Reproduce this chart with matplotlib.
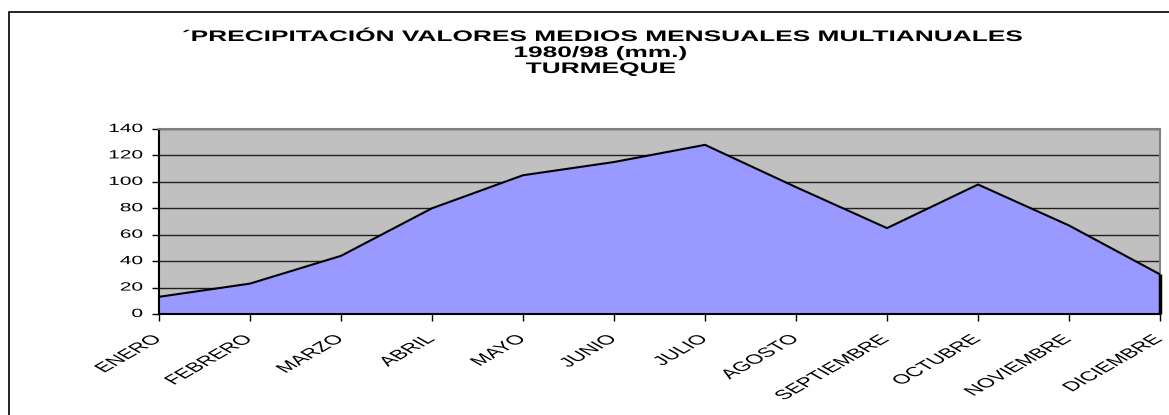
import matplotlib
matplotlib.use("Agg")
import matplotlib.pyplot as plt
from matplotlib.patches import Rectangle
from matplotlib.patheffects import AbstractPathEffect
from matplotlib.transforms import Affine2D, ScaledTranslation

months = ["ENERO", "FEBRERO", "MARZO", "ABRIL", "MAYO", "JUNIO", "JULIO",
          "AGOSTO", "SEPTIEMBRE", "OCTUBRE", "NOVIEMBRE", "DICIEMBRE"]
precip = [13, 23, 44, 80, 105, 115, 128, 96, 65, 98, 67, 30]
yticks = [0, 20, 40, 60, 80, 100, 120, 140]
title_lines = ["´PRECIPITACIÓN VALORES MEDIOS MENSUALES MULTIANUALES",
               "1980/98 (mm.)", "TURMEQUE"]

plt.rcParams['font.family'] = ['Liberation Sans', 'DejaVu Sans']


class HStretch(AbstractPathEffect):
    """Stretch glyphs horizontally around a fixed display x (keeps real text)."""
    def __init__(self, sx, cx):
        super().__init__()
        self.sx = sx
        self.cx = cx

    def draw_path(self, renderer, gc, tpath, affine, rgbFace=None):
        st = Affine2D().translate(-self.cx, 0).scale(self.sx, 1).translate(self.cx, 0)
        renderer.draw_path(gc, tpath, affine + st, rgbFace)


W, H = 1169, 415
DPI = 100
SX = 1.75
fig = plt.figure(figsize=(W / DPI, H / DPI), dpi=DPI)
ax = fig.add_axes([159 / W, 1 - 314 / H, (1160 - 159) / W, (314 - 129) / H])

x = list(range(len(months)))
ax.set_facecolor("#C0C0C0")
ax.set_xlim(0, len(months) - 1)
ax.set_ylim(0, 140)
ax.set_yticks(yticks)
ax.set_yticklabels([])
ax.set_xticks(x)
ax.set_xticklabels([])
ax.yaxis.grid(True, color="#202020", linewidth=1.0)
ax.set_axisbelow(True)
ax.fill_between(x, precip, 0, color="#9999FF", zorder=2, linewidth=0)
ax.plot(x, precip, color="black", linewidth=1.5, zorder=3)
ax.vlines(x[-1], 0, precip[-1], color="black", linewidth=2.5, zorder=4,
          clip_on=False)

ax.tick_params(axis="x", length=5, width=1)
ax.tick_params(axis="y", length=5, width=1)
for s in ["top", "right"]:
    ax.spines[s].set_color("#808080")
    ax.spines[s].set_linewidth(1.5)
for s in ["left", "bottom"]:
    ax.spines[s].set_color("black")
    ax.spines[s].set_linewidth(1.5)

# y tick labels
ylab_right = 143
ytr = ax.get_yaxis_transform() + ScaledTranslation((ylab_right - 159) / DPI, 0,
                                                   fig.dpi_scale_trans)
for v in yticks:
    ax.text(0, v, str(v), transform=ytr, ha="right", va="center",
            fontsize=8.6, path_effects=[HStretch(SX, ylab_right)])

# x tick labels
dx_px, dy_px = -7, -19
xtr = ax.get_xaxis_transform() + ScaledTranslation(dx_px / DPI, dy_px / DPI,
                                                   fig.dpi_scale_trans)
for i, m in enumerate(months):
    cx = ax.transData.transform((i, 0))[0] + dx_px
    ax.text(i, 0, m, transform=xtr, rotation=45, rotation_mode="anchor",
            ha="right", va="top", fontsize=9.6,
            path_effects=[HStretch(SX, cx)])

# title
for t, yp in zip(title_lines, [37, 53, 69]):
    fig.text(600.5 / W, 1 - yp / H, t, ha="center", va="center",
             fontsize=11, fontweight="bold",
             path_effects=[HStretch(1.72, 600.5)])

fig.patches.append(Rectangle((8.5 / W, -0.1), 2, 1 - 12.5 / H + 0.1,
                             transform=fig.transFigure, fill=False,
                             edgecolor="black", linewidth=1.2))

fig.savefig("out.png", dpi=DPI)
